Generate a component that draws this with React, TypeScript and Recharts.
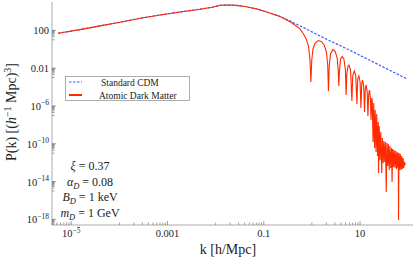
import React from 'react';
import { LineChart, Line, XAxis, YAxis, Customized } from 'recharts';

// values, stored as log10(k [h/Mpc]) and log10(P(k))
const sharedLogK = [-5.275, -4.818, -4.402, -3.986, -3.57, -3.155, -2.739, -2.323, -2.074, -1.907, -1.741, -1.575, -1.388, -1.138, -0.909, -0.66];
const sharedLogP = [1.688, 2.079, 2.471, 2.862, 3.275, 3.624, 3.942, 4.238, 4.439, 4.651, 4.683, 4.64, 4.524, 4.259, 3.889, 3.466];

const cdmTailLogK = [-0.452, -0.244, 0.068, 0.38, 0.692, 1.003, 1.315, 1.627, 1.98];
const cdmTailLogP = [2.989, 2.46, 1.667, 0.873, 0.132, -0.661, -1.455, -2.249, -3.148];

// acoustic oscillations of the atomic dark matter spectrum
const admOscLogK = [
  -0.556, -0.452, -0.348, -0.244, -0.175, -0.119, -0.071, -0.04, -0.022, -0.003,
  0.022, 0.068, 0.13, 0.193, 0.255, 0.301, 0.328, 0.344, 0.361, 0.386,
  0.436, 0.484, 0.525, 0.546, 0.558, 0.573, 0.596, 0.629, 0.664, 0.696,
  0.71, 0.725, 0.75, 0.77, 0.802, 0.831, 0.847, 0.879, 0.91, 0.935,
  0.951, 0.976, 1.001, 1.018, 1.035, 1.053, 1.076, 1.093, 1.109, 1.128,
  1.149, 1.163, 1.18, 1.197, 1.215, 1.228, 1.242,
];
const admOscLogP = [
  3.169, 2.905, 2.545, 2.122, 1.614, 1.085, 0.344, -1.138, -3.466, -1.138,
  0.026, 0.661, 0.926, 0.82, 0.45, -0.291, -1.667, -4.418, -1.667, -0.503,
  -0.026, -0.238, -0.926, -2.196, -3.889, -2.196, -1.032, -0.767, -1.032, -2.196,
  -4.841, -2.619, -1.772, -1.667, -2.196, -5.476, -2.831, -2.302, -2.725, -5.794,
  -3.148, -2.831, -3.466, -6.217, -3.677, -3.254, -3.889, -6.64, -4.206, -3.783,
  -4.524, -7.063, -4.735, -4.312, -5.265, -7.487, -5.159,
];

// noisy high-k tail
const admNoiseLogK = [
  1.253, 1.27, 1.284, 1.301, 1.315, 1.332, 1.347, 1.363, 1.378, 1.384,
  1.398, 1.415, 1.43, 1.451, 1.465, 1.482, 1.496, 1.513, 1.528, 1.544,
  1.559, 1.575, 1.59, 1.606, 1.621, 1.638, 1.654, 1.665, 1.679, 1.696,
  1.71, 1.727, 1.742, 1.758, 1.773, 1.787, 1.793, 1.8, 1.808, 1.823,
  1.837, 1.852, 1.866, 1.881, 1.895, 1.908, 1.922, 1.939,
];
const admNoiseLogP = [
  -5.37, -9.815, -5.688, -10.45, -6.429, -10.873, -6.852, -11.296, -7.698, -13.095,
  -8.122, -11.72, -8.757, -13.095, -9.392, -12.037, -9.709, -11.931, -9.815, -15.106,
  -9.921, -12.354, -10.026, -12.778, -10.238, -12.566, -10.45, -14.048, -10.556, -12.46,
  -10.661, -12.566, -10.767, -12.672, -10.873, -12.566, -10.979, -18.069, -10.979, -12.778,
  -11.085, -12.778, -11.296, -12.672, -11.508, -12.566, -11.931, -12.249,
];

const xMajorExp = [-5, -3, -1, 1];
const yMajorExp = [2, -2, -6, -10, -14, -18];
const xLabels: Record<number, string[]> = { [-5]: ['10', '\u22125'], [-3]: ['0.001'], [-1]: ['0.1'], [1]: ['10'] };
const yLabels: Record<number, string[]> = {
  [2]: ['100'], [-2]: ['0.01'], [-6]: ['10', '\u22126'], [-10]: ['10', '\u221210'],
  [-14]: ['10', '\u221214'], [-18]: ['10', '\u221218'],
};
const minorMult = [1, 2, 3, 4, 5, 6, 7, 8, 9];

const toRows = (ks: number[], ps: number[]) => ks.map((e, i) => ({ k: 10 ** e, p: 10 ** ps[i] }));
const cdmData = toRows([...sharedLogK, ...cdmTailLogK], [...sharedLogP, ...cdmTailLogP]);
const admData = toRows(
  [...sharedLogK, ...admOscLogK, ...admNoiseLogK],
  [...sharedLogP, ...admOscLogP, ...admNoiseLogP],
);

const buildTicks = (majors: number[]) => {
  const t: number[] = [];
  majors.forEach(m => {
    t.push(10 ** m);
    minorMult.forEach(f => t.push(f * 10 ** (m - 1)));
  });
  return t.sort((a, b) => a - b);
};
const xTicks = buildTicks(xMajorExp).filter(v => v > 10 ** -5.4 && v < 10 ** 2.1);
const yTicks = buildTicks(yMajorExp).filter(v => v > 10 ** -18.6 && v < 10 ** 5);

const RED = '#ff2a00';
const BLUE = '#3a5cff';
const FRAME = '#ababab';
const TICK = '#777';
const FONT = '"Liberation Serif", "Times New Roman", serif';

const majorOf = (v: number, labels: Record<number, string[]>) => {
  const e = Math.log10(v);
  const r = Math.round(e);
  if (Math.abs(e - r) > 1e-6) return null;
  return labels[r] || null;
};

const Label = ({ parts, x, y, anchor }: { parts: string[]; x: number; y: number; anchor: string }) => (
  <text x={x} y={y} textAnchor={anchor} fontFamily={FONT} fontSize={10.5} fill="#222">
    <tspan>{parts[0]}</tspan>
    {parts[1] && (
      <tspan dy={-4.5} fontSize={7.5}>
        {parts[1]}
      </tspan>
    )}
  </text>
);

const BottomTick = (props: any) => {
  const { x, y, payload } = props;
  const lab = majorOf(payload.value, xLabels);
  return (
    <g>
      <line x1={x} x2={x} y1={y} y2={y - (lab ? 4 : 2.5)} stroke={TICK} strokeWidth={0.7} />
      {lab && <Label parts={lab} x={x} y={y + 12} anchor="middle" />}
    </g>
  );
};

const TopTick = (props: any) => {
  const { x, y, payload } = props;
  const lab = majorOf(payload.value, xLabels);
  return <line x1={x} x2={x} y1={y} y2={y + (lab ? 4 : 2.5)} stroke={TICK} strokeWidth={0.7} />;
};

const LeftTick = (props: any) => {
  const { x, y, payload } = props;
  const lab = majorOf(payload.value, yLabels);
  return (
    <g>
      <line x1={x} x2={x + (lab ? 4 : 2.5)} y1={y} y2={y} stroke={TICK} strokeWidth={0.7} />
      {lab && <Label parts={lab} x={x - 3} y={y + 4} anchor="end" />}
    </g>
  );
};

const RightTick = (props: any) => {
  const { x, y, payload } = props;
  const lab = majorOf(payload.value, yLabels);
  return <line x1={x} x2={x - (lab ? 4 : 2.5)} y1={y} y2={y} stroke={TICK} strokeWidth={0.7} />;
};

const Overlay = () => (
  <g fontFamily={FONT} fill="#222">
    {/* axis titles */}
    <text transform="translate(16,112) rotate(-90)" textAnchor="middle" fontSize={14}>
      P(k) [(<tspan fontStyle="italic">h</tspan>
      <tspan dy={-5} fontSize={10}>{'\u22121'}</tspan>
      <tspan dy={5}> Mpc)</tspan>
      <tspan dy={-5} fontSize={10}>3</tspan>
      <tspan dy={5}>]</tspan>
    </text>
    <text x={228} y={254} textAnchor="middle" fontSize={14}>
      k [h/Mpc]
    </text>

    {/* legend */}
    <rect x={65.5} y={76.5} width={124} height={24} fill="#fff" stroke="#9a9a9a" strokeWidth={0.8} />
    <line x1={69} x2={82} y1={82} y2={82} stroke={BLUE} strokeWidth={1.2} strokeDasharray="2.5 1.5" />
    <text x={101} y={86} fontSize={9.5}>Standard CDM</text>
    <line x1={69} x2={82} y1={95} y2={95} stroke={RED} strokeWidth={2} />
    <text x={99} y={98.5} fontSize={9.5}>Atomic Dark Matter</text>

    {/* parameters */}
    <g fontSize={12} textAnchor="middle">
      <text x={90} y={170}>
        <tspan fontStyle="italic">{'\u03be'}</tspan> = 0.37
      </text>
      <text x={90} y={185.5}>
        <tspan fontStyle="italic">{'\u03b1'}</tspan>
        <tspan fontStyle="italic" fontSize={8.5} dy={3}>D</tspan>
        <tspan dy={-3}> = 0.08</tspan>
      </text>
      <text x={90} y={201}>
        <tspan fontStyle="italic">B</tspan>
        <tspan fontStyle="italic" fontSize={8.5} dy={3}>D</tspan>
        <tspan dy={-3}> = 1 keV</tspan>
      </text>
      <text x={90} y={216.5}>
        <tspan fontStyle="italic">m</tspan>
        <tspan fontStyle="italic" fontSize={8.5} dy={3}>D</tspan>
        <tspan dy={-3}> = 1 GeV</tspan>
      </text>
    </g>
  </g>
);

const App: React.FC = () => {
  const xDomain = [10 ** -5.4, 10 ** 2.1];
  const yDomain = [10 ** -18.6, 10 ** 5];

  return (
    <div style={{ position: 'absolute', left: 0, top: 0, background: '#fff' }}>
      <LineChart width={415} height={261} margin={{ top: 2, right: 2, bottom: 0, left: 0 }}>
        <XAxis
          xAxisId="bottom"
          type="number"
          dataKey="k"
          scale="log"
          domain={xDomain}
          allowDataOverflow
          ticks={xTicks}
          interval={0}
          tickSize={0}
          tickMargin={0}
          tickLine={false}
          tick={<BottomTick />}
          axisLine={{ stroke: FRAME }}
          height={36}
        />
        <XAxis
          xAxisId="top"
          orientation="top"
          type="number"
          dataKey="k"
          scale="log"
          domain={xDomain}
          allowDataOverflow
          ticks={xTicks}
          interval={0}
          tickSize={0}
          tickMargin={0}
          tickLine={false}
          tick={<TopTick />}
          axisLine={{ stroke: FRAME }}
          height={0}
        />
        <YAxis
          yAxisId="left"
          type="number"
          dataKey="p"
          scale="log"
          domain={yDomain}
          allowDataOverflow
          ticks={yTicks}
          interval={0}
          tickSize={0}
          tickMargin={0}
          tickLine={false}
          tick={<LeftTick />}
          axisLine={{ stroke: FRAME }}
          width={52}
        />
        <YAxis
          yAxisId="right"
          orientation="right"
          type="number"
          dataKey="p"
          scale="log"
          domain={yDomain}
          allowDataOverflow
          ticks={yTicks}
          interval={0}
          tickSize={0}
          tickMargin={0}
          tickLine={false}
          tick={<RightTick />}
          axisLine={{ stroke: FRAME }}
          width={0}
        />
        <Line
          xAxisId="bottom"
          yAxisId="left"
          data={cdmData}
          dataKey="p"
          type="linear"
          stroke={BLUE}
          strokeWidth={1.2}
          strokeDasharray="2.5 1.5"
          dot={false}
          isAnimationActive={false}
        />
        <Line
          xAxisId="bottom"
          yAxisId="left"
          data={admData}
          dataKey="p"
          type="linear"
          stroke={RED}
          strokeWidth={1.1}
          dot={false}
          isAnimationActive={false}
        />
        <Customized component={Overlay} />
      </LineChart>
    </div>
  );
};

export default App;
